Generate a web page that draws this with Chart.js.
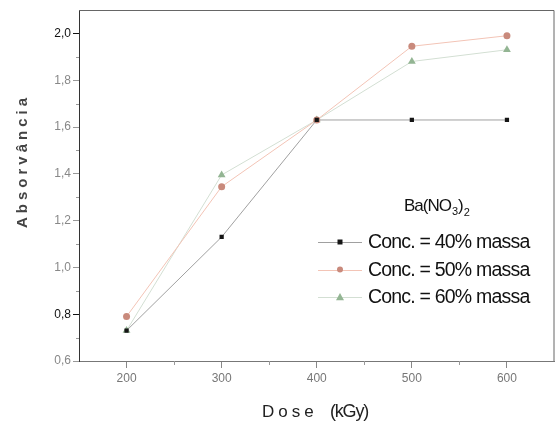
<!DOCTYPE html>
<html>
<head>
<meta charset="utf-8">
<script src="https://cdn.jsdelivr.net/npm/chart.js"></script>
<style>
  html, body { margin: 0; padding: 0; background: #fff; }
  #wrap { width: 559px; height: 424px; }
</style>
</head>
<body>
<div id="wrap"><canvas id="absorb" width="559" height="424"></canvas></div>
<script>
// dose values (kGy) and absorbance for each Ba(NO3)2 concentration
const doses = [200, 300, 400, 500, 600];
const conc40 = [0.73, 1.13, 1.63, 1.63, 1.63];
const conc50 = [0.79, 1.345, 1.63, 1.945, 1.99];
const conc60 = [0.73, 1.395, 1.63, 1.88, 1.93];
const seriesLabels = ['Conc. = 40% massa', 'Conc. = 50% massa', 'Conc. = 60% massa'];
const xTicks = [200, 300, 400, 500, 600];
const yTicks = [0.6, 0.8, 1.0, 1.2, 1.4, 1.6, 1.8, 2.0];

const FONT = '"Liberation Sans", Arial, sans-serif';

const styles = [
  { line: '#a0a0a0', fill: '#151515', shape: 'rect', r: 3 },
  { line: '#f3c4b6', fill: '#c98a7c', shape: 'circle', r: 3.5 },
  { line: '#d3dfd3', fill: '#93b593', shape: 'triangle', r: 4.5 }
];

function pts(vals) {
  return doses.map((d, i) => ({ x: d, y: vals[i] }));
}

function marker(ctx, shape, x, y, r, color) {
  ctx.save();
  ctx.fillStyle = color;
  ctx.beginPath();
  if (shape === 'rect') {
    ctx.rect(x - r, y - r, 2 * r, 2 * r);
  } else if (shape === 'circle') {
    ctx.arc(x, y, r, 0, Math.PI * 2);
  } else {
    ctx.moveTo(x, y - r);
    ctx.lineTo(x + r, y + r * 0.8);
    ctx.lineTo(x - r, y + r * 0.8);
    ctx.closePath();
  }
  ctx.fill();
  ctx.restore();
}

// frame, minor ticks, axis titles and the in-plot legend
const decor = {
  id: 'decor',
  afterDraw(chart) {
    const { ctx, chartArea: a, scales } = chart;
    ctx.save();

    // top and right border
    ctx.strokeStyle = '#666';
    ctx.lineWidth = 1;
    ctx.beginPath();
    ctx.moveTo(a.left, a.top + 0.5);
    ctx.lineTo(a.right - 0.5, a.top + 0.5);
    ctx.lineTo(a.right - 0.5, a.bottom);
    ctx.stroke();

    // minor ticks
    ctx.strokeStyle = '#999';
    ctx.beginPath();
    [250, 350, 450, 550].forEach(v => {
      const px = Math.round(scales.x.getPixelForValue(v)) + 0.5;
      ctx.moveTo(px, a.bottom);
      ctx.lineTo(px, a.bottom + 4);
    });
    [0.7, 0.9, 1.1, 1.3, 1.5, 1.7, 1.9].forEach(v => {
      const py = Math.round(scales.y.getPixelForValue(v)) + 0.5;
      ctx.moveTo(a.left, py);
      ctx.lineTo(a.left - 3, py);
    });
    ctx.stroke();

    // axis titles
    ctx.fillStyle = '#222';
    ctx.textBaseline = 'middle';
    ctx.textAlign = 'left';
    ctx.font = '17px ' + FONT;
    ctx.letterSpacing = '4px';
    ctx.fillText('Dose', 262, 412);
    ctx.font = '18px ' + FONT;
    ctx.letterSpacing = '-1.2px';
    ctx.fillText('(kGy)', 330, 412);

    ctx.save();
    ctx.textAlign = 'center';
    ctx.translate(23, 161);
    ctx.rotate(-Math.PI / 2);
    ctx.font = 'bold 15px ' + FONT;
    ctx.fillStyle = '#444';
    ctx.letterSpacing = '4px';
    ctx.fillText('Absorvância', 0, 0);
    ctx.restore();

    // legend title Ba(NO3)2
    ctx.letterSpacing = '0px';
    ctx.fillStyle = '#111';
    let tx = 404;
    const ty = 206;
    ctx.font = '17px ' + FONT;
    ctx.letterSpacing = '-1px';
    ctx.fillText('Ba(NO', tx, ty);
    tx += ctx.measureText('Ba(NO').width + 1;
    ctx.letterSpacing = '0px';
    ctx.font = '11px ' + FONT;
    ctx.fillText('3', tx, ty + 6);
    tx += ctx.measureText('3').width;
    ctx.font = '17px ' + FONT;
    ctx.fillText(')', tx, ty);
    tx += ctx.measureText(')').width;
    ctx.font = '11px ' + FONT;
    ctx.fillText('2', tx, ty + 7);

    // legend entries
    ctx.font = '19.5px ' + FONT;
    ctx.letterSpacing = '-0.8px';
    seriesLabels.forEach((label, i) => {
      const st = styles[i];
      const y = 242 + i * 27.5;
      ctx.strokeStyle = st.line;
      ctx.lineWidth = 1;
      ctx.beginPath();
      ctx.moveTo(318, Math.round(y) + 0.5);
      ctx.lineTo(362, Math.round(y) + 0.5);
      ctx.stroke();
      marker(ctx, st.shape, 340, y, st.r - 0.5, st.fill);
      ctx.fillStyle = '#111';
      ctx.fillText(label, 368, y + 1);
    });

    ctx.restore();
  }
};

const chart = new Chart(document.getElementById('absorb').getContext('2d'), {
  type: 'scatter',
  data: {
    datasets: [conc40, conc50, conc60].map((vals, i) => ({
      label: seriesLabels[i],
      data: pts(vals),
      order: i,
      showLine: true,
      borderColor: styles[i].line,
      borderWidth: 1,
      backgroundColor: styles[i].fill,
      pointBackgroundColor: styles[i].fill,
      pointBorderColor: styles[i].fill,
      pointBorderWidth: 0,
      pointStyle: styles[i].shape,
      pointRadius: styles[i].r,
      tension: 0
    }))
  },
  options: {
    responsive: false,
    animation: false,
    layout: { padding: { top: 10, right: 4, left: 0, bottom: 0 } },
    plugins: {
      legend: { display: false },
      tooltip: { enabled: false }
    },
    scales: {
      x: {
        type: 'linear',
        min: 150,
        max: 650,
        afterBuildTicks: s => { s.ticks = xTicks.map(v => ({ value: v })); },
        afterFit: s => { s.height = 63; },
        grid: { drawOnChartArea: false, drawTicks: true, tickLength: 7, color: '#888' },
        border: { color: '#777', width: 1 },
        ticks: {
          color: '#777',
          padding: 3,
          font: { family: FONT, size: 12 },
          maxRotation: 0
        }
      },
      y: {
        type: 'linear',
        min: 0.6,
        max: 2.1,
        afterBuildTicks: s => { s.ticks = yTicks.map(v => ({ value: v })); },
        afterFit: s => { s.width = 79; },
        grid: { drawOnChartArea: false, drawTicks: true, tickLength: 6, color: ctx => (ctx.tick && (ctx.tick.value === 2.0 || ctx.tick.value === 0.8)) ? '#111' : '#999' },
        border: { color: '#333', width: 1 },
        ticks: {
          color: ctx => (ctx.tick.value === 2.0 || ctx.tick.value === 0.8) ? '#111' : '#888',
          padding: 2,
          font: { family: FONT, size: 12 },
          callback: v => v.toFixed(1).replace('.', ',')
        }
      }
    }
  },
  plugins: [decor]
});
</script>
</body>
</html>
